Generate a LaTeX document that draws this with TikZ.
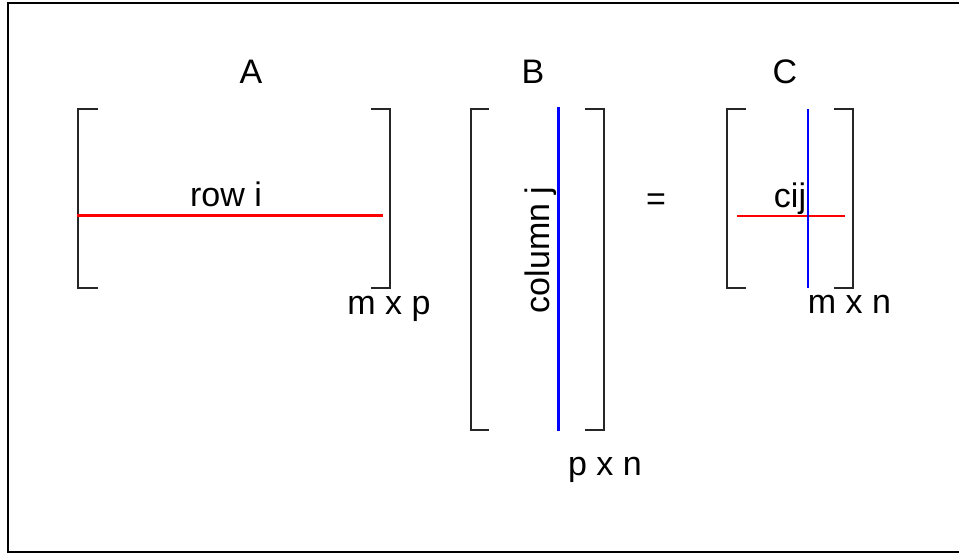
\documentclass[tikz,border=0pt]{standalone}
\usepackage{fontspec}
\setmainfont{Liberation Sans}
\begin{document}
\begin{tikzpicture}[x=1pt,y=-1pt,
  lbl/.style={inner sep=0pt,anchor=base,font=\fontsize{34}{40}\selectfont},
  brk/.style={line width=1.8pt,black!85},
  redl/.style={line width=3pt,red},
  bluel/.style={line width=3pt,blue},
  thinred/.style={line width=1.4pt,red},
  thinblue/.style={line width=1.4pt,blue}]
\useasboundingbox (0,0) rectangle (959,554);
% frame
\draw[line width=2pt] (965,3) -- (8,3) -- (8,552) -- (965,552);
% titles
\node[lbl] (tA) at (251,83) {A};
\node[lbl] (tB) at (533,83) {B};
\node[lbl] (tC) at (785,83) {C};
% matrix A
\draw[brk] (98,109) -- (78,109) -- (78,288) -- (98,288);
\draw[brk] (371,109) -- (390,109) -- (390,288) -- (371,288);
\coordinate (ra1) at (77,215);
\coordinate (ra2) at (383,215);
\draw[redl] (ra1) -- (ra2);
\node[lbl] (rowi) at (226,206) {row i};
\node[lbl] (mxp) at (389,314) {m x p};
% matrix B
\draw[brk] (489,109) -- (471,109) -- (471,430) -- (489,430);
\draw[brk] (585,109) -- (604,109) -- (604,430) -- (585,430);
\coordinate (cb1) at (558,107);
\coordinate (cb2) at (558,431);
\draw[bluel] (cb1) -- (cb2);
\node[lbl,rotate=90] (colj) at (549,250) {column j};
\node[lbl] (pxn) at (605,475) {p x n};
% equals
\node[lbl] (eq) at (656,210) {=};
% matrix C
\draw[brk] (746,109) -- (727,109) -- (727,288) -- (746,288);
\draw[brk] (834,109) -- (853,109) -- (853,288) -- (834,288);
\coordinate (cc1) at (808,109);
\coordinate (cc2) at (808,288);
\coordinate (rc1) at (737,216);
\coordinate (rc2) at (845,216);
\draw[thinred] (rc1) -- (rc2);
\draw[thinblue] (cc1) -- (cc2);
\node[lbl] (cij) at (790,207) {cij};
\node[lbl] (mxn) at (849.5,313) {m x n};
\end{tikzpicture}
\end{document}
